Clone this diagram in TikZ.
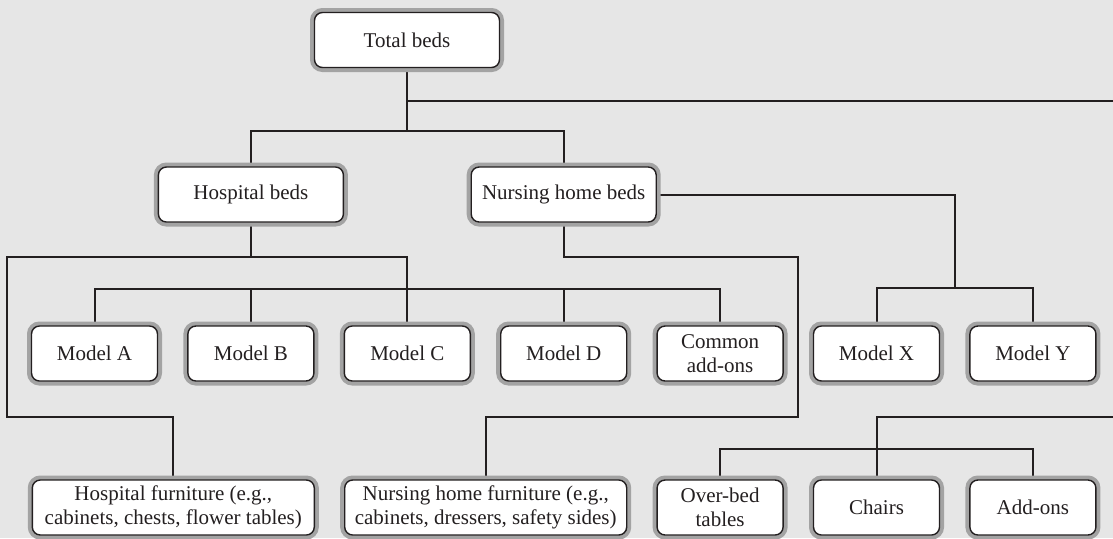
\documentclass[tikz,border=0pt]{standalone}
\usepackage{fontspec}
\setmainfont{Liberation Serif}
\usetikzlibrary{positioning, calc, backgrounds}
\definecolor{paper}{HTML}{E6E6E6}
\definecolor{rim}{HTML}{A3A3A3}
\definecolor{ink}{HTML}{231F20}

\begin{document}
\begin{tikzpicture}[
    x=0.5pt, y=-0.5pt,
    % rows 49.5pt apart, boxes 15.2pt apart
    node distance=49.5pt and 15.2pt,
    box/.style={rectangle, draw=ink, line width=0.7pt, fill=white, rounded corners=4pt, align=center,
        minimum width=63pt, minimum height=27.5pt, inner sep=1pt, outer sep=0pt,
        font=\fontsize{10.5}{12}\selectfont, text=ink, preaction={draw=rim, line width=4.5pt}},
    widebox/.style={box, minimum width=92.5pt},
    furnbox/.style={box, minimum width=141pt},
    conn/.style={draw=ink, line width=1pt}
]
    \useasboundingbox (0,0) rectangle (1113,538);

    % --- Top node ---
    \node[widebox] (tot) at (407,40) {Total beds};

    % --- Model row ---
    \node[box] (mA) at (94.5,353.5) {Model A};
    \node[box] (mB) [right=of mA] {Model B};
    \node[box] (mC) [right=of mB] {Model C};
    \node[box] (mD) [right=of mC] {Model D};
    \node[box] (mCom) [right=of mD] {Common\\add-ons};
    \node[box] (mX) [right=of mCom] {Model X};
    \node[box] (mY) [right=of mX] {Model Y};

    % --- Bed types above the models ---
    \node[widebox] (hosp) [above=52pt of mB] {Hospital beds};
    \node[widebox] (nurs) [above=52pt of mD] {Nursing home beds};

    % --- Bottom row ---
    \node[box] (over) [below=of mCom] {Over-bed\\tables};
    \node[box] (chairs) [below=of mX] {Chairs};
    \node[box] (addons) [below=of mY] {Add-ons};
    \node[furnbox] (nfurn) [left=of over] {Nursing home furniture (e.g.,\\cabinets, dressers, safety sides)};
    \node[furnbox] (hfurn) [left=of nfurn] {Hospital furniture (e.g.,\\cabinets, chests, flower tables)};

    % --- Free ends at the right edge ---
    \coordinate (outR) at (1113,101);
    \coordinate (inR) at (1113,417);

    \begin{pgfonlayer}{background}
    \fill[paper] (0,0) rectangle (1113,538);

    % --- Total beds ---
    \draw[conn] (tot.south) -- ++(0,63) coordinate (tsplit);
    \draw[conn] (tsplit) -| (hosp.north);
    \draw[conn] (tsplit) -| (nurs.north);
    \draw[conn] (tot.south |- outR) -- (outR);

    % --- Hospital beds branch ---
    \draw[conn] (hosp.south) -- ++(0,35) coordinate (hsplit) -| (mC.north);
    \draw[conn] (hsplit) -- ++(-243.5,0) -- ++(0,160) -| (hfurn.north);

    % --- Model bus ---
    \draw[conn] (mA.north) -- ++(0,-37) -| (mCom.north);
    \draw[conn] (mB.north) -- ++(0,-37);
    \draw[conn] (mD.north) -- ++(0,-37);

    % --- Nursing home beds branch ---
    \coordinate (gapCX) at ($(mCom.east)!0.5!(mX.west)$);
    \draw[conn] (nurs.south) -- ++(0,35) -| ($(gapCX)+(0,63.5)$) -| (nfurn.north);
    \draw[conn] (nurs.east) -| ($(mX.north)!0.5!(mY.north)+(0,-38)$);
    \draw[conn] (mX.north) -- ++(0,-38) -| (mY.north);

    % --- Coming back in from the right ---
    \draw[conn] (inR) -| (chairs.north);
    \draw[conn] (over.north) -- ++(0,-31) -| (addons.north);
    \end{pgfonlayer}
\end{tikzpicture}
\end{document}
